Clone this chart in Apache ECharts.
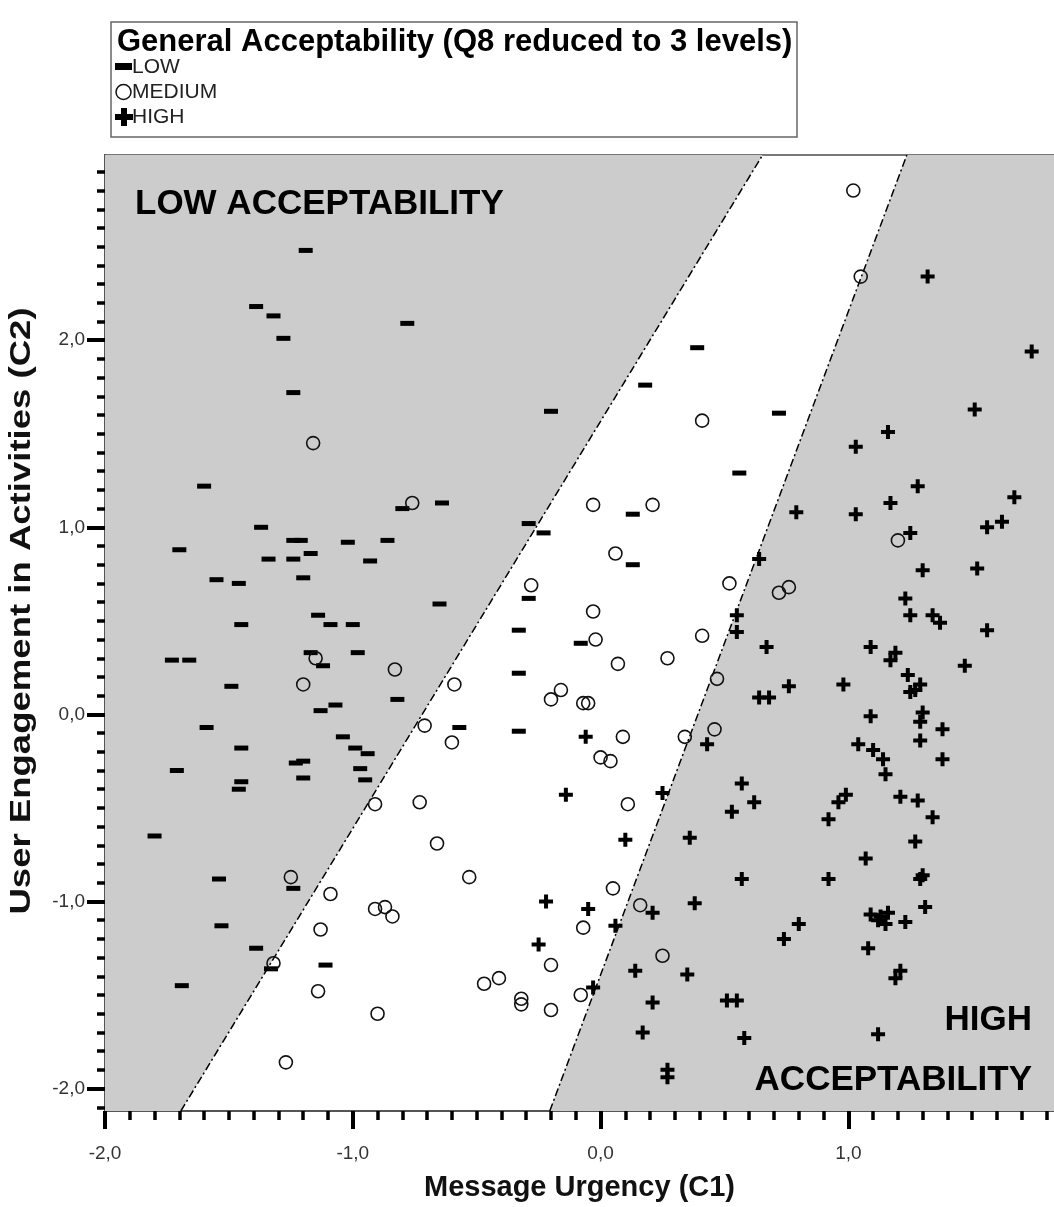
<!DOCTYPE html>
<html>
<head>
<meta charset="utf-8">
<title>General Acceptability</title>
<script src="https://cdn.jsdelivr.net/npm/echarts@6/dist/echarts.min.js"></script>
<style>
html, body { margin: 0; padding: 0; background: #fff; }
#chart { width: 1054px; height: 1207px; }
</style>
</head>
<body>
<div id="chart"></div>
<script>
// axis ranges, C1 horizontal, C2 vertical
const xRange = [-2.0, 1.83]
const yRange = [-2.12, 2.99]
const xTicks = [-2, -1, 0, 1]
const yTicks = [-2, -1, 0, 1, 2]

// the two dash-dot dividing lines (end points in data units)
const lowLine = [[-1.694, -2.12], [0.654, 2.99]]
const highLine = [[-0.205, -2.12], [1.236, 2.99]]

// LOW acceptability respondents [C1, C2]
const low = [
  [-1.19, 2.48], [-1.39, 2.18], [-1.32, 2.13], [-0.78, 2.09], [-1.28, 2.01],
  [-1.24, 1.72], [-0.20, 1.62], [-1.60, 1.22], [-0.80, 1.10], [-0.64, 1.13],
  [-1.37, 1.00], [-1.24, 0.93], [-1.21, 0.93], [-1.02, 0.92], [-0.86, 0.93],
  [-1.70, 0.88], [-0.29, 1.02], [-0.23, 0.97], [-1.34, 0.83], [-1.24, 0.83],
  [-1.17, 0.86], [-0.93, 0.82], [-1.55, 0.72], [-1.46, 0.70], [-1.20, 0.73],
  [-0.65, 0.59], [-0.29, 0.62], [-1.45, 0.48], [-1.14, 0.53], [-1.09, 0.48],
  [-1.00, 0.48], [-0.33, 0.45], [-1.73, 0.29], [-1.66, 0.29], [-1.17, 0.33],
  [-1.12, 0.26], [-0.98, 0.33], [-1.49, 0.15], [-1.13, 0.02], [-1.07, 0.05],
  [-0.82, 0.08], [-0.33, 0.22], [-1.59, -0.07], [-1.45, -0.18], [-1.04, -0.12],
  [-0.99, -0.18], [-0.94, -0.21], [-1.71, -0.30], [-1.23, -0.26], [-1.20, -0.25],
  [-1.20, -0.34], [-0.97, -0.29], [-0.95, -0.35], [-1.45, -0.36], [-1.46, -0.40],
  [-0.57, -0.07], [-0.33, -0.09], [-1.80, -0.65], [-1.54, -0.88], [-1.24, -0.93],
  [-1.53, -1.13], [-1.39, -1.25], [-1.33, -1.36], [-1.11, -1.34], [-1.69, -1.45],
  [0.39, 1.96], [0.18, 1.76], [0.72, 1.61], [0.56, 1.29], [0.13, 1.07],
  [0.13, 0.80], [-0.08, 0.38]
]

// MEDIUM
const medium = [
  [1.02, 2.80], [1.05, 2.34], [-1.16, 1.45], [0.41, 1.57], [-0.76, 1.13],
  [-0.03, 1.12], [0.21, 1.12], [0.06, 0.86], [1.20, 0.93], [-0.28, 0.69],
  [0.52, 0.70], [0.72, 0.65], [0.76, 0.68], [-0.03, 0.55], [0.41, 0.42],
  [-0.02, 0.40], [-1.15, 0.30], [-0.83, 0.24], [0.07, 0.27], [0.27, 0.30],
  [-1.20, 0.16], [-0.59, 0.16], [-0.16, 0.13], [-0.20, 0.08], [-0.07, 0.06],
  [-0.05, 0.06], [0.47, 0.19], [-0.71, -0.06], [-0.60, -0.15], [0.09, -0.12],
  [0.34, -0.12], [0.46, -0.08], [0.00, -0.23], [0.04, -0.25], [-0.91, -0.48],
  [-0.73, -0.47], [0.11, -0.48], [-0.66, -0.69], [-0.53, -0.87], [-1.25, -0.87],
  [-1.09, -0.96], [-0.91, -1.04], [-0.87, -1.03], [-0.84, -1.08], [0.05, -0.93],
  [0.16, -1.02], [-0.07, -1.14], [-1.13, -1.15], [-1.32, -1.33], [-0.20, -1.34],
  [0.25, -1.29], [-1.14, -1.48], [-0.47, -1.44], [-0.41, -1.41], [-0.32, -1.52],
  [-0.32, -1.55], [-0.20, -1.58], [-0.08, -1.50], [-0.90, -1.60], [-1.27, -1.86]
]

// HIGH
const high = [
  [1.32, 2.34], [1.74, 1.94], [1.51, 1.63], [1.16, 1.51], [1.03, 1.43],
  [0.79, 1.08], [1.03, 1.07], [1.28, 1.22], [1.17, 1.13], [1.67, 1.16],
  [1.62, 1.03], [1.56, 1.00], [1.25, 0.97], [1.30, 0.77], [1.52, 0.78],
  [0.64, 0.83], [1.23, 0.62], [1.25, 0.53], [1.34, 0.53], [1.37, 0.49],
  [1.56, 0.45], [0.55, 0.53], [0.55, 0.44], [0.67, 0.36], [1.09, 0.36],
  [1.19, 0.33], [1.17, 0.29], [1.47, 0.26], [0.76, 0.15], [0.98, 0.16],
  [0.64, 0.09], [0.68, 0.09], [1.24, 0.21], [1.27, 0.13], [1.29, 0.16],
  [1.25, 0.12], [1.09, -0.01], [1.30, 0.01], [1.29, -0.04], [1.38, -0.08],
  [-0.06, -0.12], [0.43, -0.16], [1.04, -0.16], [1.10, -0.19], [1.14, -0.24],
  [1.15, -0.32], [1.29, -0.14], [1.38, -0.24], [0.25, -0.42], [-0.14, -0.43],
  [0.57, -0.37], [0.62, -0.47], [0.53, -0.52], [0.99, -0.43], [0.96, -0.47],
  [0.92, -0.56], [1.21, -0.44], [1.28, -0.46], [1.34, -0.55], [0.10, -0.67],
  [0.36, -0.66], [1.27, -0.68], [1.07, -0.77], [0.57, -0.88], [0.92, -0.88],
  [1.29, -0.88], [1.30, -0.86], [-0.05, -1.04], [0.06, -1.13], [-0.22, -1.00],
  [0.21, -1.06], [0.38, -1.01], [1.31, -1.03], [1.09, -1.07], [1.13, -1.08],
  [1.16, -1.06], [1.15, -1.12], [1.12, -1.10], [1.23, -1.11], [0.80, -1.12],
  [0.74, -1.20], [1.08, -1.25], [-0.25, -1.23], [0.14, -1.37], [0.35, -1.39],
  [1.21, -1.37], [1.19, -1.41], [-0.03, -1.46], [0.21, -1.54], [0.51, -1.53],
  [0.55, -1.53], [0.17, -1.70], [0.58, -1.73], [1.12, -1.71], [0.27, -1.90],
  [0.27, -1.94]
]

const FONT = '"Liberation Sans", Arial, sans-serif'
const PLUS = 'path://M5,0h4v5h5v4h-5v5h-4v-5h-5v-4h5z'

// small ticks every 0.1
function steps (a, b) {
  let out = []
  for (let i = Math.round(a * 10); i <= Math.round(b * 10); i++) out.push(i / 10)
  return out
}
const fmt = v => v.toFixed(1).replace('.', ',')

let chart = echarts.init(document.getElementById('chart'))

const axisLine = { show: true, onZero: false, lineStyle: { color: '#555', width: 2 } }

chart.setOption({
  animation: false,
  backgroundColor: '#fff',
  grid: {
    left: 105, top: 155, right: -2, bottom: 91,
    show: true, backgroundColor: '#fff', borderColor: '#777', borderWidth: 2
  },
  xAxis: [
    {
      type: 'value', min: xRange[0], max: xRange[1], position: 'bottom',
      name: 'Message Urgency (C1)', nameLocation: 'middle', nameGap: 62,
      nameTextStyle: { fontFamily: FONT, fontWeight: 'bold', fontSize: 29, color: '#111' },
      axisLine: axisLine,
      axisTick: { show: true, length: 18, customValues: xTicks, lineStyle: { color: '#000', width: 4 } },
      axisLabel: { customValues: xTicks, formatter: fmt, margin: 33, fontFamily: FONT, fontSize: 19, color: '#333' },
      splitLine: { show: false }
    },
    {
      type: 'value', min: xRange[0], max: xRange[1], position: 'bottom',
      axisLine: axisLine,
      axisTick: { show: true, length: 9, customValues: steps(-2, 1.8), lineStyle: { color: '#000', width: 3.5 } },
      axisLabel: { show: false },
      splitLine: { show: false }
    }
  ],
  yAxis: [
    {
      type: 'value', min: yRange[0], max: yRange[1], position: 'left',
      axisLine: axisLine,
      axisTick: { show: true, length: 18, customValues: yTicks, lineStyle: { color: '#000', width: 4 } },
      axisLabel: { customValues: yTicks, formatter: fmt, margin: 20, fontFamily: FONT, fontSize: 19, color: '#333' },
      splitLine: { show: false }
    },
    {
      type: 'value', min: yRange[0], max: yRange[1], position: 'left',
      axisLine: axisLine,
      axisTick: { show: true, length: 8, customValues: steps(-2.1, 2.9), lineStyle: { color: '#000', width: 3.5 } },
      axisLabel: { show: false },
      splitLine: { show: false }
    }
  ],
  series: [
    {
      // grey zones left of the first line and right of the second
      type: 'custom',
      silent: true,
      z: 1,
      data: [[0, 0]],
      renderItem (params, api) {
        const poly = pts => ({
          type: 'polygon',
          shape: { points: pts.map(p => api.coord(p)) },
          style: { fill: '#cccccc' }
        })
        return {
          type: 'group',
          children: [
            poly([[xRange[0], yRange[0]], lowLine[0], lowLine[1], [xRange[0], yRange[1]]]),
            poly([highLine[0], [xRange[1], yRange[0]], [xRange[1], yRange[1]], highLine[1]])
          ]
        }
      }
    },
    {
      type: 'line', data: lowLine, symbol: 'none', silent: true, z: 2,
      lineStyle: { color: '#000', width: 1.5, type: [8, 3, 2, 3] }
    },
    {
      type: 'line', data: highLine, symbol: 'none', silent: true, z: 2,
      lineStyle: { color: '#000', width: 1.5, type: [8, 3, 2, 3] }
    },
    {
      name: 'LOW', type: 'scatter', data: low, z: 3,
      symbol: 'rect', symbolSize: [14, 5],
      itemStyle: { color: '#000', opacity: 1 }
    },
    {
      name: 'MEDIUM', type: 'scatter', data: medium, z: 3,
      symbol: 'circle', symbolSize: 13,
      itemStyle: { color: 'rgba(0,0,0,0)', borderColor: '#111', borderWidth: 1.6, opacity: 1 }
    },
    {
      name: 'HIGH', type: 'scatter', data: high, z: 3,
      symbol: PLUS, symbolSize: 14,
      itemStyle: { color: '#000', opacity: 1 }
    }
  ],
  graphic: [
    // legend box
    { type: 'rect', shape: { x: 111, y: 22, width: 686, height: 115 }, style: { fill: '#fff', stroke: '#666', lineWidth: 1.5 }, z: 10 },
    { type: 'text', z: 11, style: { x: 117, y: 42, text: 'General Acceptability (Q8 reduced to 3 levels)', font: 'bold 31px ' + FONT, fill: '#000', verticalAlign: 'middle' } },
    { type: 'rect', z: 11, shape: { x: 115, y: 63, width: 17, height: 7 }, style: { fill: '#000' } },
    { type: 'text', z: 11, style: { x: 132, y: 67, text: 'LOW', font: '21px ' + FONT, fill: '#222', verticalAlign: 'middle' } },
    { type: 'circle', z: 11, shape: { cx: 123.5, cy: 92, r: 7.5 }, style: { fill: 'none', stroke: '#111', lineWidth: 1.5 } },
    { type: 'text', z: 11, style: { x: 132, y: 92, text: 'MEDIUM', font: '21px ' + FONT, fill: '#222', verticalAlign: 'middle' } },
    { type: 'polygon', z: 11, shape: { points: [[121, 108], [127, 108], [127, 114], [133, 114], [133, 120], [127, 120], [127, 126], [121, 126], [121, 120], [115, 120], [115, 114], [121, 114]] }, style: { fill: '#000' } },
    { type: 'text', z: 11, style: { x: 132, y: 117, text: 'HIGH', font: '21px ' + FONT, fill: '#222', verticalAlign: 'middle' } },
    // y axis title, drawn as text so it can be stretched along its length like the original
    { type: 'text', z: 11, x: 22, y: 611, rotation: Math.PI / 2, scaleX: 1.26,
      style: { x: 0, y: 0, text: 'User Engagement in Activities (C2)', font: 'bold 29px ' + FONT, fill: '#111', align: 'center', verticalAlign: 'middle' } },
    // zone labels
    { type: 'text', z: 11, style: { x: 135, y: 204, text: 'LOW ACCEPTABILITY', font: 'bold 35px ' + FONT, fill: '#000', verticalAlign: 'middle' } },
    { type: 'text', z: 11, style: { x: 1032, y: 1020, text: 'HIGH', font: 'bold 35px ' + FONT, fill: '#000', align: 'right', verticalAlign: 'middle' } },
    { type: 'text', z: 11, style: { x: 1032, y: 1080, text: 'ACCEPTABILITY', font: 'bold 35px ' + FONT, fill: '#000', align: 'right', verticalAlign: 'middle' } }
  ]
})
</script>
</body>
</html>
